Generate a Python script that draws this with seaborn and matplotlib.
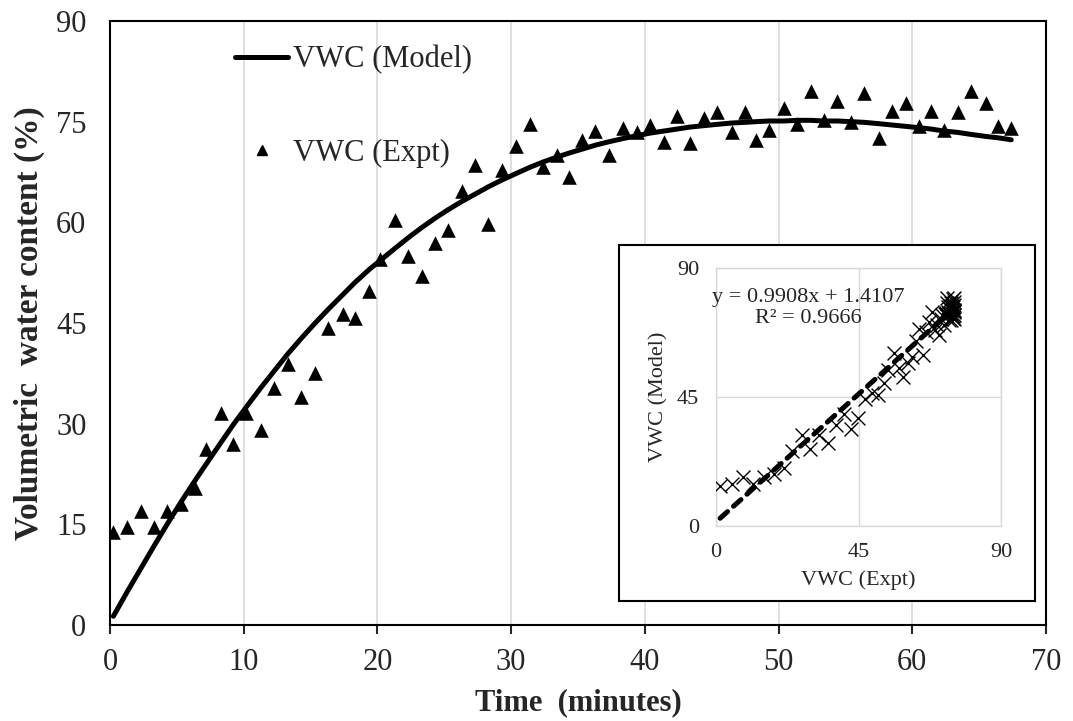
import numpy as np
import pandas as pd
import seaborn as sns
import matplotlib.pyplot as plt
from matplotlib.lines import Line2D

# time (minutes) of each reading
time_min = [0.25, 1.3, 2.3, 3.3, 4.3, 5.3, 6.35, 7.2, 8.3, 9.2,
            10.2, 11.3, 12.3, 13.3, 14.3, 15.3, 16.3, 17.4, 18.3, 19.4,
            20.2, 21.3, 22.3, 23.3, 24.3, 25.3, 26.3, 27.3, 28.3, 29.3,
            30.4, 31.4, 32.4, 33.4, 34.3, 35.3, 36.3, 37.3, 38.4, 39.4,
            40.4, 41.4, 42.4, 43.4, 44.4, 45.4, 46.5, 47.5, 48.3, 49.3,
            50.4, 51.4, 52.4, 53.4, 54.4, 55.4, 56.4, 57.5, 58.5, 59.5,
            60.5, 61.4, 62.4, 63.4, 64.4, 65.5, 66.4, 67.4]

# measured VWC (%)
vwc_expt = [13.8, 14.6, 17.0, 14.6, 17.0, 18.0, 20.4, 26.2, 31.6, 27.0,
            31.6, 29.1, 35.3, 38.9, 33.9, 37.6, 44.2, 46.3, 45.8, 49.8,
            54.5, 60.3, 55.0, 52.0, 56.9, 58.9, 64.6, 68.6, 59.8, 67.8,
            71.3, 74.7, 68.3, 70.0, 66.7, 72.3, 73.6, 70.0, 74.1, 73.4,
            74.5, 71.9, 75.8, 71.8, 75.5, 76.4, 73.4, 76.4, 72.3, 73.7,
            77.0, 74.6, 79.5, 75.2, 78.1, 75.0, 79.3, 72.6, 76.6, 77.8,
            74.4, 76.6, 73.8, 76.4, 79.5, 77.8, 74.3, 74.1]

# model VWC (%)
vwc_model = [1.3, 5.0, 8.4, 11.8, 15.1, 18.3, 21.5, 24.0, 27.2, 29.8,
             32.5, 35.4, 37.9, 40.4, 42.7, 44.9, 47.0, 49.2, 51.0, 53.0,
             54.3, 56.1, 57.7, 59.2, 60.6, 61.9, 63.1, 64.2, 65.3, 66.3,
             67.3, 68.2, 69.0, 69.7, 70.3, 70.9, 71.5, 72.0, 72.5, 72.9,
             73.3, 73.6, 73.9, 74.2, 74.4, 74.6, 74.8, 74.9, 75.0, 75.1,
             75.1, 75.2, 75.2, 75.1, 75.1, 75.0, 74.9, 74.7, 74.5, 74.3,
             74.1, 73.9, 73.6, 73.4, 73.1, 72.8, 72.6, 72.3]

# trendline shown in the inset
trend_slope = 0.9908
trend_icept = 1.4107
trend_r2 = 0.9666

df = pd.DataFrame({'time': time_min, 'expt': vwc_expt, 'model': vwc_model})

sns.set_style('white')
plt.rcParams['font.family'] = ['Liberation Serif', 'DejaVu Serif']

fig = plt.figure(figsize=(10.73, 7.21), dpi=100)
ax = fig.add_axes([110/1073, 96/721, 936/1073, 604/721])

sns.lineplot(data=df, x='time', y='model', ax=ax, color='black', lw=3.6,
             legend=False, zorder=3)
sns.scatterplot(data=df, x='time', y='expt', ax=ax, marker='^', s=110,
                color='black', edgecolor='black', linewidth=0, zorder=4)

ax.set_xlim(0, 70)
ax.set_ylim(0, 90)
ax.set_xticks(np.arange(0, 71, 10))
ax.set_yticks(np.arange(0, 91, 15))
ax.grid(axis='x', color='#d9d9d9', lw=1.2)
ax.grid(axis='y', visible=False)
for s in ax.spines.values():
    s.set_color('black')
    s.set_linewidth(1.5)
ax.tick_params(axis='x', direction='out', length=6.5, width=1.5, pad=10,
               labelsize=22, bottom=True)
ax.tick_params(axis='y', length=0, pad=17, labelsize=22)
ax.set_xlabel('Time  (minutes)', fontsize=22, fontweight='bold', labelpad=8)
ax.set_ylabel('Volumetric  water content (%)', fontsize=24, fontweight='bold', labelpad=8)

handles = [Line2D([], [], color='black', lw=3.6),
           Line2D([], [], color='black', marker='^', ls='none', ms=7)]
ax.legend(handles, ['VWC (Model)', 'VWC (Expt)'], loc='upper left',
          bbox_to_anchor=(0.1335, 0.96), frameon=False, fontsize=22,
          handlelength=1.75, handletextpad=0.15, labelspacing=2.1,
          borderpad=0, borderaxespad=0)

# inset box
box = fig.add_axes([619/1073, 120/721, 416/1073, 356/721], zorder=5)
box.set_facecolor('white')
box.set_xticks([])
box.set_yticks([])
for s in box.spines.values():
    s.set_color('black')
    s.set_linewidth(1.5)

ax_in = fig.add_axes([716/1073, 195/721, 285/1073, 258/721], zorder=6)
ax_in.set_facecolor('none')
sns.scatterplot(data=df, x='model', y='expt', ax=ax_in, marker='x', s=100,
                color='black', linewidth=1.0, zorder=3)
x_tr = np.array([min(vwc_model), max(vwc_model)])
sns.lineplot(x=x_tr, y=trend_slope * x_tr + trend_icept, ax=ax_in, color='black',
             lw=3.6, linestyle=(0, (2.0, 1.6)), legend=False, zorder=4)
for l in ax_in.get_lines():
    l.set_dash_capstyle('round')
ax_in.set_xlim(0, 90)
ax_in.set_ylim(0, 90)
ax_in.set_xticks([0, 45, 90])
ax_in.set_yticks([0, 45, 90])
ax_in.grid(True, color='#d9d9d9', lw=1)
for s in ax_in.spines.values():
    s.set_color('#d9d9d9')
    s.set_linewidth(1)
ax_in.tick_params(length=0, pad=12, labelsize=16)
ax_in.set_xlabel('VWC (Expt)', fontsize=16, labelpad=6)
ax_in.set_ylabel('VWC (Model)', fontsize=16, labelpad=6)
ax_in.text(29.1, 76.1, 'y = %.4fx + %.4f\nR² = %.4f' % (trend_slope, trend_icept, trend_r2),
           ha='center', va='center', multialignment='center', fontsize=16,
           linespacing=1.1)

plt.savefig('out.png', dpi=100)
